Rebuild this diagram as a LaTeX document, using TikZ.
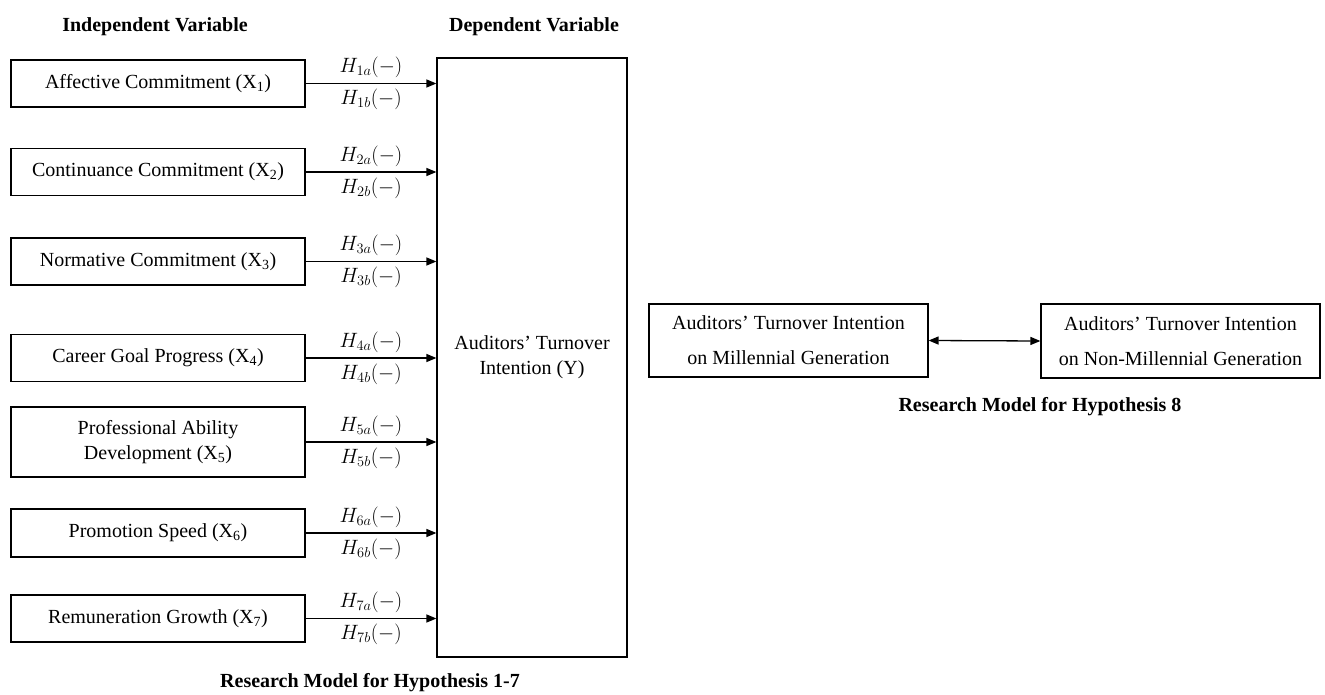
\documentclass[tikz,border=0pt]{standalone}
\usepackage{fontspec}
\setmainfont{Liberation Serif}
\usetikzlibrary{arrows.meta}
\begin{document}
\begin{tikzpicture}[x=1pt,y=-1pt,
  vbox/.style={draw, line width=1.2pt, inner sep=0pt, align=center, font=\fontsize{20}{25}\selectfont},
  head/.style={font=\bfseries\fontsize{20}{24}\selectfont, inner sep=0pt},
  hyp/.style={font=\fontsize{21}{24}\selectfont, inner sep=0pt},
  conn/.style={line width=1.3pt, -{Triangle[length=10pt,width=8pt]}},
  dconn/.style={line width=1.3pt, {Triangle[length=10pt,width=8pt]}-{Triangle[length=10pt,width=8pt]}}]
\path[use as bounding box] (0,0) rectangle (1325,695);

% headers
\node[head] (iv) at (155,27) {Independent Variable};
\node[head] (dv) at (534,27) {Dependent Variable};

% dependent variable box
\node[vbox, minimum width=190pt, minimum height=599pt] (y) at (532,357.5) {Auditors’ Turnover\\Intention (Y)};

% independent variable boxes
\node[vbox, minimum width=294pt, minimum height=47pt] (x1) at (158,83.5) {Affective Commitment (X\textsubscript{1})};
\node[vbox, minimum width=294pt, minimum height=47pt] (x2) at (158,172) {Continuance Commitment (X\textsubscript{2})};
\node[vbox, minimum width=294pt, minimum height=47pt] (x3) at (158,261.5) {Normative Commitment (X\textsubscript{3})};
\node[vbox, minimum width=294pt, minimum height=47pt] (x4) at (158,358) {Career Goal Progress (X\textsubscript{4})};
\node[vbox, minimum width=294pt, minimum height=70pt] (x5) at (158,442) {Professional Ability\\Development (X\textsubscript{5})};
\node[vbox, minimum width=294pt, minimum height=48pt] (x6) at (158,533) {Promotion Speed (X\textsubscript{6})};
\node[vbox, minimum width=294pt, minimum height=47pt] (x7) at (158,618.5) {Remuneration Growth (X\textsubscript{7})};

% connectors with hypothesis labels
\foreach \i in {1,...,7}{
  \draw[conn] (x\i.east) -- node[hyp, above=5pt] (h\i a) {$H_{\i a}(-)$}
                               node[hyp, below=5pt] (h\i b) {$H_{\i b}(-)$}
              (x\i.east -| y.west);
}

\node[head] (t1) at (370,683) {Research Model for Hypothesis 1-7};

% hypothesis 8 model
\node[vbox, minimum width=279pt, minimum height=73pt, font=\fontsize{20}{35}\selectfont] (m) at (788.5,340.5) {Auditors’ Turnover Intention\\on Millennial Generation};
\node[vbox, minimum width=279pt, minimum height=74pt, font=\fontsize{20}{35}\selectfont] (n) at (1180.5,341) {Auditors’ Turnover Intention\\on Non-Millennial Generation};
\draw[dconn] (m.east) -- (n.west);

\node[head] (t8) at (1040,407) {Research Model for Hypothesis 8};
\end{tikzpicture}
\end{document}
